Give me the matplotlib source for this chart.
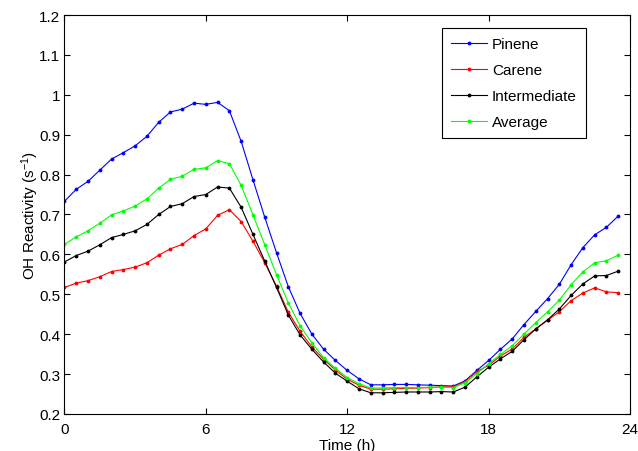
import numpy as np
import matplotlib
matplotlib.use("Agg")
from matplotlib import pyplot as plt

plt.rcParams["font.family"] = ["Liberation Sans", "DejaVu Sans"]
plt.rcParams["mathtext.fontset"] = "custom"
plt.rcParams["mathtext.rm"] = "Liberation Sans"
plt.rcParams["mathtext.it"] = "Liberation Sans"

# ------------------------------------------------------------------------------------------------------------------
#  data (values every half hour)
# ------------------------------------------------------------------------------------------------------------------
hours = np.arange(0, 24, 0.5)

pinene = [0.733, 0.763, 0.783, 0.811, 0.839, 0.855, 0.872, 0.896, 0.931, 0.957, 0.964, 0.979,
          0.976, 0.981, 0.960, 0.883, 0.787, 0.693, 0.604, 0.519, 0.452, 0.400, 0.362, 0.334,
          0.309, 0.288, 0.273, 0.273, 0.274, 0.274, 0.273, 0.272, 0.271, 0.270, 0.283, 0.309,
          0.334, 0.362, 0.388, 0.424, 0.457, 0.489, 0.525, 0.574, 0.617, 0.649, 0.668, 0.696]

carene = [0.517, 0.528, 0.534, 0.544, 0.557, 0.562, 0.568, 0.579, 0.598, 0.614, 0.625, 0.647,
          0.664, 0.698, 0.712, 0.682, 0.633, 0.579, 0.520, 0.455, 0.407, 0.368, 0.337, 0.310,
          0.287, 0.272, 0.262, 0.262, 0.263, 0.264, 0.265, 0.266, 0.268, 0.268, 0.281, 0.306,
          0.322, 0.345, 0.363, 0.392, 0.413, 0.435, 0.456, 0.484, 0.503, 0.516, 0.506, 0.504]

intermediate = [0.581, 0.597, 0.608, 0.624, 0.642, 0.650, 0.659, 0.675, 0.700, 0.720, 0.727, 0.745,
                0.750, 0.769, 0.766, 0.718, 0.650, 0.583, 0.517, 0.448, 0.398, 0.362, 0.330, 0.302,
                0.282, 0.263, 0.253, 0.253, 0.254, 0.255, 0.255, 0.255, 0.256, 0.255, 0.267, 0.293,
                0.317, 0.338, 0.357, 0.386, 0.413, 0.436, 0.463, 0.497, 0.526, 0.546, 0.547, 0.558]

average = [0.625, 0.644, 0.659, 0.678, 0.699, 0.709, 0.721, 0.739, 0.766, 0.788, 0.796, 0.813,
           0.817, 0.835, 0.827, 0.773, 0.699, 0.624, 0.549, 0.478, 0.421, 0.378, 0.341, 0.314,
           0.291, 0.276, 0.265, 0.265, 0.266, 0.266, 0.266, 0.267, 0.267, 0.266, 0.278, 0.301,
           0.326, 0.349, 0.371, 0.400, 0.429, 0.456, 0.485, 0.524, 0.556, 0.579, 0.584, 0.598]

labels = ["Pinene", "Carene", "Intermediate", "Average"]
colors = ["#0000ff", "#ff0000", "#000000", "#00ff00"]

xticks = [0, 6, 12, 18, 24]
yticks = np.round(np.arange(0.2, 1.21, 0.1), 1)
ytick_labels = ["0.2", "0.3", "0.4", "0.5", "0.6", "0.7", "0.8", "0.9", "1", "1.1", "1.2"]

# ------------------------------------------------------------------------------------------------------------------
#  plot
# ------------------------------------------------------------------------------------------------------------------
fig = plt.figure(figsize=(6.38, 4.52), dpi=100)
ax = fig.add_axes([0.101, 0.082, 0.8865, 0.8826])

for series, lab, col in zip([pinene, carene, intermediate, average], labels, colors):
    ax.plot(hours, series, color=col, lw=0.8, marker=".", ms=3.5, label=lab)

ax.set_xlim(0, 24)
ax.set_ylim(0.2, 1.2)
ax.set_xticks(xticks)
ax.set_yticks(yticks)
ax.set_yticklabels(ytick_labels)
ax.tick_params(direction="in", length=4, width=0.8, labelsize=11, top=True, right=True, pad=3)
ax.tick_params(axis="x", pad=6)
for sp in ax.spines.values():
    sp.set_linewidth(0.8)

ax.set_xlabel("Time (h)", fontsize=11, labelpad=1)
ax.set_ylabel(r"OH Reactivity (s$^{-1}$)", fontsize=11, labelpad=-1)

leg = ax.legend(loc="upper right", bbox_to_anchor=(586 / 638, 1 - 29.3 / 452), bbox_transform=fig.transFigure,
                fontsize=11, fancybox=False, framealpha=1, edgecolor="black", handlelength=2.4,
                handletextpad=0.3, borderpad=0.6, labelspacing=0.78, borderaxespad=0)
leg.get_frame().set_linewidth(0.8)

fig.savefig("out.png", dpi=100)
